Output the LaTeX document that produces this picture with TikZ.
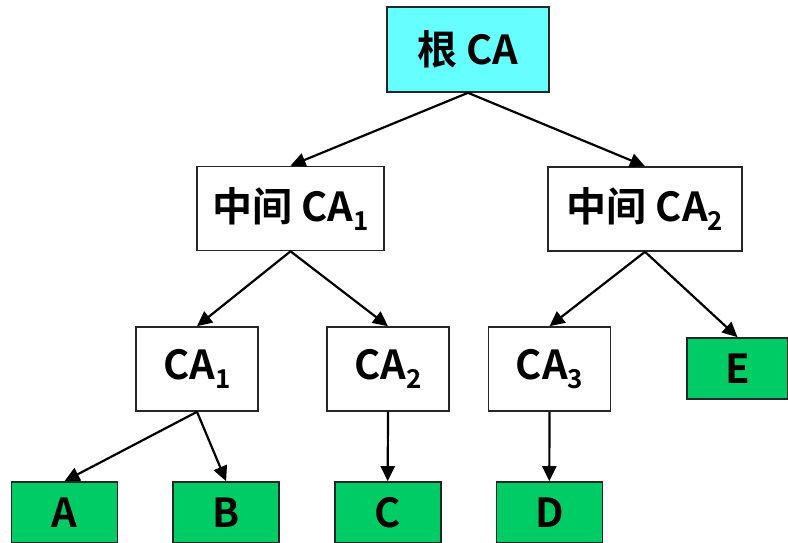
\documentclass[tikz,border=0pt]{standalone}
\usepackage{fontspec}
\setmainfont{Noto Sans CJK SC}[BoldFont={Noto Sans CJK SC Bold}]
\usetikzlibrary{arrows.meta, positioning}
\newcommand{\lowidx}[1]{\raisebox{-9pt}{\fontsize{26}{26}\selectfont #1}}

\begin{document}
\begin{tikzpicture}[
    x = 1pt, y = -1pt,
    kasse/.style = {rectangle, draw=black!85, line width=1.6pt, fill=white,
                    inner sep=0pt, minimum width=122pt, minimum height=84pt,
                    font=\fontsize{40}{42}\selectfont\bfseries},
    rot/.style = {kasse, fill={rgb,255:red,102;green,255;blue,255}},
    blad/.style = {kasse, fill={rgb,255:red,0;green,204;blue,102},
                   minimum width=106pt, minimum height=61pt},
    pil/.style = {black, line width=2.2pt, -{Triangle[length=15pt, width=14pt]}}
    ]
  \useasboundingbox (0,0) rectangle (788,542);

  \node[rot, minimum width=162pt, minimum height=85pt] (root) at (468,49.5) {根 CA} ;
  \node[kasse, minimum width=187pt] (mid1) at (290.5,208.5) {中间 CA\lowidx{1}} ;
  \node[kasse, minimum width=194pt] (mid2) at (645,209) {中间 CA\lowidx{2}} ;

  \node[kasse] (ca1) at (197,369) {CA\lowidx{1}} ;
  \node[kasse] (ca2) at (388,369) {CA\lowidx{2}} ;
  \node[kasse] (ca3) at (549.5,369) {CA\lowidx{3}} ;
  \node[blad, minimum width=101pt] (E) at (737.5,368.5) {E} ;

  \node[blad] (A) at (64.5,512.5) {A} ;
  \node[blad] (B) [right=54pt of A] {B} ;
  \node[blad] (C) [right=54pt of B] {C} ;
  \node[blad] (D) [right=54pt of C] {D} ;

  \path[pil]
  (root.south) edge (mid1.north)
  (root.south) edge (mid2.north)
  (mid1.south) edge (ca1.north)
  (mid1.south) edge (ca2.north)
  (mid2.south) edge (ca3.north)
  (mid2.south) edge (E.north)
  (ca1.south) edge (A.north)
  (ca1.south) edge (B.north)
  (ca2.south) edge (C.north)
  (ca3.south) edge (D.north);
\end{tikzpicture}
\end{document}
